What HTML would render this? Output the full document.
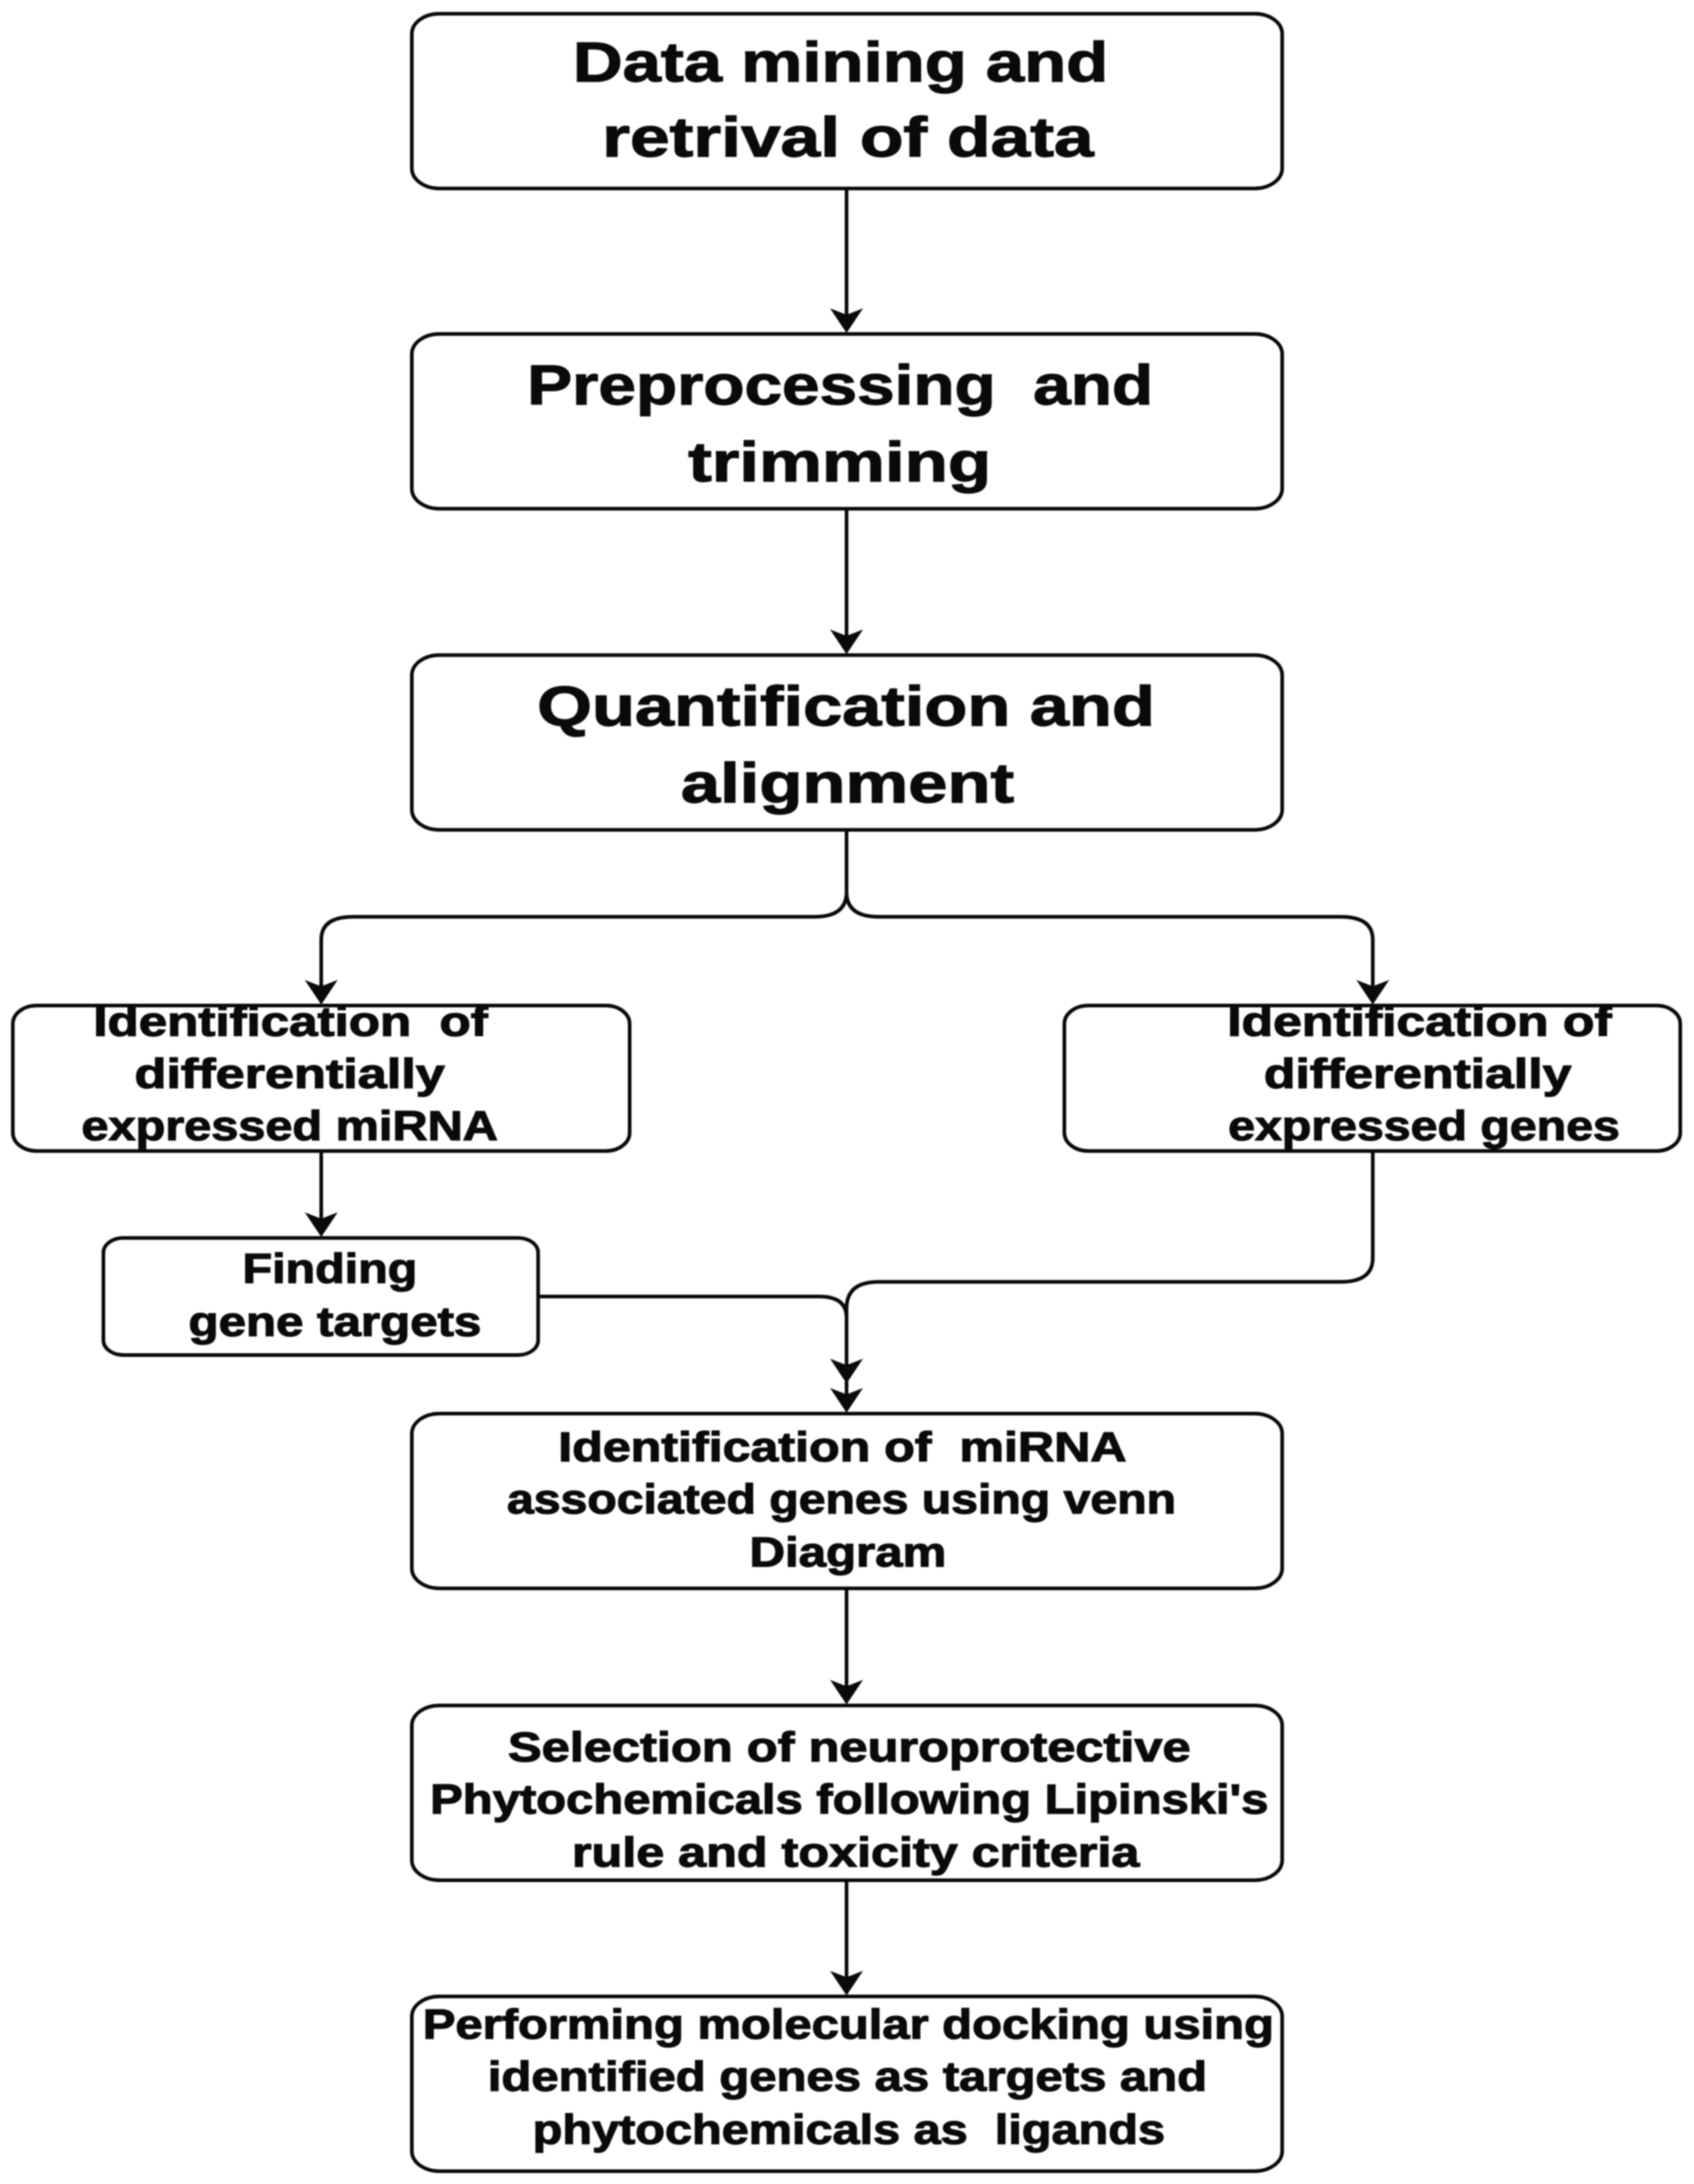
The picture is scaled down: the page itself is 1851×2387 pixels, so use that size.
<!DOCTYPE html>
<html>
<head>
<meta charset="utf-8">
<style>
html,body{margin:0;padding:0;background:#fff;width:1851px;height:2387px;overflow:hidden}
svg{display:block;position:absolute;left:0;top:0}
text{font-family:"Liberation Sans",sans-serif;font-weight:700;fill:#0a0a0a;stroke:#0a0a0a;white-space:pre}
.l{font-size:61px;stroke-width:1.2px}
.s{font-size:45px;stroke-width:1.2px}
rect{fill:#fff;stroke:#0a0a0a;stroke-width:4}
.c{fill:none;stroke:#0a0a0a;stroke-width:4}
.a{fill:#0a0a0a;stroke:none}
</style>
</head>
<body>
<svg width="1851" height="2387" viewBox="0 0 1851 2387" xmlns="http://www.w3.org/2000/svg">
<g style="filter:blur(0.7px)">
<rect x="450" y="15" width="951" height="191" rx="30" ry="22"/>
<rect x="450" y="365" width="951" height="191" rx="30" ry="22"/>
<rect x="450" y="716" width="951" height="191" rx="30" ry="22"/>
<rect x="14" y="1099" width="674" height="159" rx="26" ry="20"/>
<rect x="1163" y="1099" width="673" height="159" rx="26" ry="20"/>
<rect x="113" y="1353" width="475" height="128" rx="22" ry="16"/>
<rect x="450" y="1545" width="951" height="191" rx="30" ry="22"/>
<rect x="450" y="1864" width="951" height="191" rx="30" ry="22"/>
<rect x="450" y="2182" width="951" height="191" rx="30" ry="22"/>

<path class="c" d="M925 206V350"/>
<path class="c" d="M925 556V700"/>
<path class="c" d="M925 907V975Q925 1002 890 1002H386Q351 1002 351 1027V1085"/>
<path class="c" d="M925 975Q925 1002 960 1002H1465Q1500 1002 1500 1027V1085"/>
<path class="c" d="M351 1258V1340"/>
<path class="c" d="M588 1417H895Q925 1417 925 1440V1530"/>
<path class="c" d="M1500 1258V1375Q1500 1401 1465 1401H960Q925 1401 925 1430V1500"/>
<path class="c" d="M925 1736V1850"/>
<path class="c" d="M925 2054V2168"/>

<path class="a" d="M925 364L907 337L925 344L943 337Z"/>
<path class="a" d="M925 715L907 688L925 695L943 688Z"/>
<path class="a" d="M351 1098L333 1071L351 1078L369 1071Z"/>
<path class="a" d="M1500 1098L1482 1071L1500 1078L1518 1071Z"/>
<path class="a" d="M351 1352L333 1325L351 1332L369 1325Z"/>
<path class="a" d="M925 1512L907 1485L925 1492L943 1485Z"/>
<path class="a" d="M925 1544L907 1517L925 1524L943 1517Z"/>
<path class="a" d="M925 1863L907 1836L925 1843L943 1836Z"/>
<path class="a" d="M925 2181L907 2154L925 2161L943 2154Z"/>

<text class="l" x="626" y="89" textLength="585" lengthAdjust="spacingAndGlyphs">Data mining and</text>
<text class="l" x="658" y="171" textLength="537" lengthAdjust="spacingAndGlyphs">retrival of data</text>
<text class="l" x="576" y="442" textLength="684" lengthAdjust="spacingAndGlyphs" xml:space="preserve">Preprocessing  and</text>
<text class="l" x="752" y="526" textLength="331" lengthAdjust="spacingAndGlyphs">trimming</text>
<text class="l" x="587" y="793" textLength="675" lengthAdjust="spacingAndGlyphs">Quantification and</text>
<text class="l" x="744" y="877" textLength="364" lengthAdjust="spacingAndGlyphs">alignment</text>

<text class="s" x="102" y="1132" textLength="431" lengthAdjust="spacingAndGlyphs" xml:space="preserve">Identification  of</text>
<text class="s" x="147" y="1189" textLength="339" lengthAdjust="spacingAndGlyphs">differentially</text>
<text class="s" x="89" y="1246" textLength="455" lengthAdjust="spacingAndGlyphs">expressed miRNA</text>

<text class="s" x="1341" y="1132" textLength="420" lengthAdjust="spacingAndGlyphs">Identification of</text>
<text class="s" x="1381" y="1189" textLength="336" lengthAdjust="spacingAndGlyphs">differentially</text>
<text class="s" x="1342" y="1246" textLength="428" lengthAdjust="spacingAndGlyphs">expressed genes</text>

<text class="s" x="265" y="1402" textLength="191" lengthAdjust="spacingAndGlyphs">Finding</text>
<text class="s" x="206" y="1460" textLength="320" lengthAdjust="spacingAndGlyphs">gene targets</text>

<text class="s" x="610" y="1597" textLength="621" lengthAdjust="spacingAndGlyphs" xml:space="preserve">Identification of  miRNA</text>
<text class="s" x="554" y="1654" textLength="731" lengthAdjust="spacingAndGlyphs">associated genes using venn</text>
<text class="s" x="819" y="1712" textLength="215" lengthAdjust="spacingAndGlyphs">Diagram</text>

<text class="s" x="555" y="1925" textLength="746" lengthAdjust="spacingAndGlyphs">Selection of neuroprotective</text>
<text class="s" x="470" y="1982" textLength="916" lengthAdjust="spacingAndGlyphs">Phytochemicals following Lipinski's</text>
<text class="s" x="625" y="2040" textLength="620" lengthAdjust="spacingAndGlyphs">rule and toxicity criteria</text>

<text class="s" x="462" y="2228" textLength="930" lengthAdjust="spacingAndGlyphs">Performing molecular docking using</text>
<text class="s" x="533" y="2285" textLength="786" lengthAdjust="spacingAndGlyphs">identified genes as targets and</text>
<text class="s" x="582" y="2343" textLength="691" lengthAdjust="spacingAndGlyphs" xml:space="preserve">phytochemicals as  ligands</text>
</g>
</svg>
</body>
</html>
